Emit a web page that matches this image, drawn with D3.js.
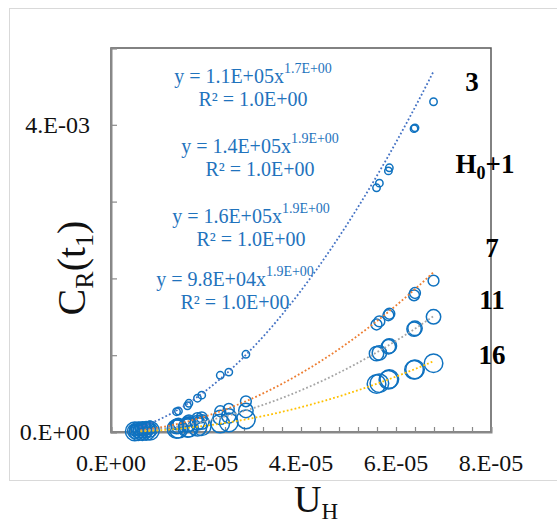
<!DOCTYPE html>
<html>
<head>
<meta charset="utf-8">
<script src="https://cdn.jsdelivr.net/npm/d3@7"></script>
<style>
  body { margin: 0; background: #fff; }
  svg text { font-family: "Liberation Serif", "Times New Roman", serif; }
</style>
</head>
<body>
<div id="chart"></div>
<script>

// U_H values, shared by every series
const uH = [0.50e-5, 0.58e-5, 0.66e-5, 0.74e-5, 0.82e-5,
	1.38e-5, 1.42e-5, 1.61e-5, 1.64e-5, 1.82e-5, 1.91e-5, 2.30e-5, 2.48e-5, 2.84e-5,
	5.59e-5, 5.65e-5, 5.84e-5, 5.86e-5, 6.38e-5, 6.40e-5, 6.79e-5]

// C_R(t1) for each series
const crA = [0.045e-3, 0.055e-3, 0.065e-3, 0.080e-3, 0.095e-3,
	0.264e-3, 0.273e-3, 0.342e-3, 0.374e-3, 0.440e-3, 0.480e-3, 0.738e-3, 0.780e-3, 1.012e-3,
	3.18e-3, 3.24e-3, 3.40e-3, 3.44e-3, 3.95e-3, 3.96e-3, 4.30e-3]
const crB = [0.018e-3, 0.022e-3, 0.027e-3, 0.033e-3, 0.040e-3,
	0.100e-3, 0.110e-3, 0.140e-3, 0.150e-3, 0.180e-3, 0.190e-3, 0.270e-3, 0.300e-3, 0.400e-3,
	1.40e-3, 1.44e-3, 1.52e-3, 1.54e-3, 1.78e-3, 1.81e-3, 1.97e-3]
const crC = [0.012e-3, 0.015e-3, 0.019e-3, 0.023e-3, 0.028e-3,
	0.070e-3, 0.075e-3, 0.095e-3, 0.100e-3, 0.120e-3, 0.130e-3, 0.190e-3, 0.210e-3, 0.280e-3,
	1.02e-3, 1.03e-3, 1.11e-3, 1.12e-3, 1.34e-3, 1.35e-3, 1.50e-3]
const crD = [0.008e-3, 0.010e-3, 0.012e-3, 0.015e-3, 0.018e-3,
	0.040e-3, 0.042e-3, 0.053e-3, 0.056e-3, 0.068e-3, 0.075e-3, 0.110e-3, 0.125e-3, 0.165e-3,
	0.625e-3, 0.635e-3, 0.680e-3, 0.690e-3, 0.810e-3, 0.815e-3, 0.895e-3]

// power trendlines y = a * x^b
const trendA = [1.12e5, 1.57e5, 1.67e5, 1.65e5]
const trendB = [1.77, 1.89, 1.93, 1.98]
const trendStart = [0.60e-5, 0.62e-5, 0.62e-5, 0.62e-5]

const eqMain = ["y = 1.1E+05x", "y = 1.4E+05x", "y = 1.6E+05x", "y = 9.8E+04x"]
const eqPow = ["1.7E+00", "1.9E+00", "1.9E+00", "1.9E+00"]
const eqR2 = ["R² = 1.0E+00", "R² = 1.0E+00", "R² = 1.0E+00", "R² = 1.0E+00"]

const seriesLabels = ["3", "H0+1", "7", "11", "16"]

const xTicks = [0, 2e-5, 4e-5, 6e-5, 8e-5]
const xTickLabels = ["0.E+00", "2.E-05", "4.E-05", "6.E-05", "8.E-05"]
const yTicks = [0, 4e-3]
const yTickLabels = ["0.E+00", "4.E-03"]

const width = 557
const height = 524

const svg = d3.select('#chart').append('svg')
	.attr('width', width)
	.attr('height', height)

// outer chart frame
svg.append('rect')
	.attr('x', 9.5).attr('y', 8.5)
	.attr('width', 560).attr('height', 472)
	.attr('fill', 'white')
	.attr('stroke', '#d9d9d9')

const x = d3.scaleLinear().domain([0, 8e-5]).range([111, 491])
const y = d3.scaleLinear().domain([0, 5e-3]).range([432, 48])

// plot area border
svg.append('rect')
	.attr('x', x(0)).attr('y', y(5e-3))
	.attr('width', x(8e-5) - x(0))
	.attr('height', y(0) - y(5e-3))
	.attr('fill', 'none')
	.attr('stroke', '#595959')
	.attr('stroke-width', 1.5)

// inward minor ticks
const xMinor = d3.range(0, 8.01e-5, 0.4e-5)
const yMinor = d3.range(0, 5.01e-3, 1e-3)

const xTickG = svg.append('g')
	.attr('transform', 'translate(0,' + y(0) + ')')
	.call(d3.axisBottom(x).tickValues(xMinor).tickSize(-5).tickFormat(''))
const yTickG = svg.append('g')
	.attr('transform', 'translate(' + x(0) + ',0)')
	.call(d3.axisLeft(y).tickValues(yMinor).tickSize(-6).tickFormat(''))

;[xTickG, yTickG].forEach(function(g) {
	g.select('.domain').attr('stroke', '#898989').attr('stroke-width', 2)
	g.selectAll('.tick line').attr('stroke', '#898989').attr('stroke-width', 1.2)
})

// tick labels
svg.append('g').selectAll('text')
	.data(xTicks)
	.enter()
	.append('text')
	.attr('x', d => x(d))
	.attr('y', 471)
	.attr('text-anchor', 'middle')
	.style('font-size', '24px')
	.attr('fill', '#111')
	.text((d, i) => xTickLabels[i])

svg.append('g').selectAll('text')
	.data(yTicks)
	.enter()
	.append('text')
	.attr('x', 90)
	.attr('y', d => y(d) + 8)
	.attr('text-anchor', 'end')
	.style('font-size', '24px')
	.attr('fill', '#111')
	.text((d, i) => yTickLabels[i])

// points
const series = [crA, crB, crC, crD]
const radii = [3.7, 5.4, 7.2, 9.3]

series.forEach(function(vals, s) {
	svg.append('g').selectAll('circle')
		.data(uH)
		.enter()
		.append('circle')
		.attr('cx', d => x(d))
		.attr('cy', (d, i) => y(vals[i]))
		.attr('r', radii[s])
		.attr('fill', 'none')
		.attr('stroke', '#0f72c0')
		.attr('stroke-width', 1.5)
})

// trendlines
const trendColors = ['#4472c4', '#ed7d31', '#a5a5a5', '#ffc000']
const xMax = d3.max(uH)

trendA.forEach(function(a, s) {
	const xs = d3.range(0, 61).map(i => trendStart[s] + (xMax - trendStart[s]) * i / 60)
	const line = d3.line()
		.x(d => x(d))
		.y(d => y(a * Math.pow(d, trendB[s])))
	svg.append('path')
		.datum(xs)
		.attr('d', line)
		.attr('fill', 'none')
		.attr('stroke', trendColors[s])
		.attr('stroke-width', 1.8)
		.attr('stroke-dasharray', '1.8 2.2')
})

// trendline equations
const eqX = [253, 260, 251, 235]
const eqY = [83, 153, 223, 286]

eqMain.forEach(function(m, i) {
	const t = svg.append('text')
		.attr('x', eqX[i])
		.attr('y', eqY[i])
		.attr('text-anchor', 'middle')
		.attr('fill', '#1f73bd')
		.style('font-size', '20px')
	t.append('tspan').text(m)
	t.append('tspan').attr('dy', -10).style('font-size', '14px').text(eqPow[i])

	svg.append('text')
		.attr('x', eqX[i])
		.attr('y', eqY[i] + 22.5)
		.attr('text-anchor', 'middle')
		.attr('fill', '#1f73bd')
		.style('font-size', '20px')
		.text(eqR2[i])
})

// series labels
const labX = [472, 485, 492, 492, 492]
const labY = [91, 173, 257, 309, 364]

seriesLabels.forEach(function(l, i) {
	const t = svg.append('text')
		.attr('x', labX[i])
		.attr('y', labY[i])
		.attr('text-anchor', 'middle')
		.style('font-size', '27px')
		.style('font-weight', 'bold')
	if (l.indexOf('H0') == 0) {
		t.append('tspan').text('H')
		t.append('tspan').attr('dy', 6).style('font-size', '18px').text('0')
		t.append('tspan').attr('dy', -6).text(l.slice(2))
	} else {
		t.text(l)
	}
})

// axis titles
const xt = svg.append('text')
	.attr('x', 316)
	.attr('y', 512)
	.attr('text-anchor', 'middle')
	.style('font-size', '38px')
	.attr('fill', '#111')
xt.append('tspan').text('U')
xt.append('tspan').attr('dy', 7).style('font-size', '23px').text('H')

const yt = svg.append('text')
	.attr('transform', 'translate(85,268) rotate(-90)')
	.attr('text-anchor', 'middle')
	.style('font-size', '40px')
	.attr('fill', '#111')
yt.append('tspan').text('C')
yt.append('tspan').attr('dy', 8).style('font-size', '26px').text('R')
yt.append('tspan').attr('dy', -8).text('(t')
yt.append('tspan').attr('dy', 8).style('font-size', '26px').text('1')
yt.append('tspan').attr('dy', -8).text(')')

</script>
</body>
</html>
